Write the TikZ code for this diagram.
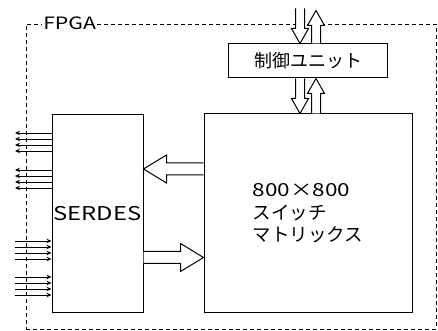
\documentclass[tikz,border=0pt]{standalone}
\usepackage{fontspec}
\setmainfont{Noto Sans CJK JP}
\newfontfamily\widelatin[FakeStretch=1.25]{Noto Sans CJK JP}
\usetikzlibrary{arrows.meta,
positioning,
calc}

% hollow wide arrow: start, end, shaft half width, head half width, head length
\newcommand{\fatarrow}[5]{%
\path #1 coordinate (fa-s) #2 coordinate (fa-e);
\path ($(fa-e)!#5!(fa-s)$) coordinate (fa-h);
\filldraw[fat] ($(fa-s)!#3!90:(fa-e)$) -- ($(fa-h)!#3!90:(fa-e)$) -- ($(fa-h)!#4!90:(fa-e)$) -- (fa-e)
-- ($(fa-h)!#4!-90:(fa-e)$) -- ($(fa-h)!#3!-90:(fa-e)$) -- ($(fa-s)!#3!-90:(fa-e)$);
}

\begin{document}
\begin{tikzpicture}[
x=1pt, y=1pt,
box/.style={
draw,
line width=1pt,
inner sep=0pt
},
frame/.style={draw, dashed, dash pattern=on 4pt off 3pt, line width=0.9pt},
fat/.style={line width=1pt, fill=white},
sig/.style={line width=0.9pt},
>={Stealth[length=5pt,width=4.5pt]}
]
\useasboundingbox (0,0) rectangle (438,331);

% FPGA frame
\node[frame, minimum width=410pt, minimum height=305pt] (fpga) at (231,154.5) {};
\node[fill=white, inner sep=1.5pt, anchor=west, font=\widelatin\fontsize{17}{17}\selectfont] (fpgalabel) at ($(fpga.north west)+(16,0)$) {FPGA};

% blocks
\node[box, minimum width=208pt, minimum height=199pt, align=left,
font=\fontsize{18.5}{22.5}\selectfont] (switch) at (308,117.5) {{\widelatin\fontsize{18}{22.5}\selectfont 800×800}\\スイッチ\\マトリックス};
\node[box, minimum width=159pt, minimum height=34pt, font=\fontsize{18}{18}\selectfont,
above=35pt of switch] (ctrl) {制御ユニット};
\node[box, minimum width=91pt, minimum height=198pt, font=\widelatin\fontsize{19}{19}\selectfont,
left=60pt of switch] (serdes) {SERDES};

% serial lines
\foreach \y [count=\i] in {198,192,186,180,161,155,149,143}{
\coordinate (tx\i) at (15,\y);
\draw[sig,->] (serdes.west |- tx\i) -- (tx\i);
}
\foreach \y [count=\i] in {90,84,78,72,54,48,42,36}{
\coordinate (rx\i) at (15,\y);
\draw[sig,->] (rx\i) -- (serdes.west |- rx\i);
}

% parallel data
\coordinate (back) at ($(switch.west)+(0,44.5)$);
\fatarrow{(back)}{(serdes.east |- back)}{6pt}{14pt}{23pt}
\coordinate (fwd) at ($(serdes.east)+(0,-44)$);
\fatarrow{(fwd)}{(switch.west |- fwd)}{6pt}{14pt}{23pt}

% control
\coordinate (cin) at ($(ctrl.north)+(-8,35)$);
\fatarrow{(cin)}{(cin |- ctrl.north)}{4.5pt}{8.5pt}{15pt}
\coordinate (cout) at ($(ctrl.north)+(8,33)$);
\fatarrow{(cout |- ctrl.north)}{(cout)}{4.5pt}{8.5pt}{15pt}
\coordinate (cdn) at ($(ctrl.south)+(-8,0)$);
\fatarrow{(cdn)}{(cdn |- switch.north)}{4.5pt}{8.5pt}{15pt}
\coordinate (cup) at ($(ctrl.south)+(8,0)$);
\fatarrow{(cup |- switch.north)}{(cup)}{4.5pt}{8.5pt}{15pt}

\end{tikzpicture}
\end{document}
